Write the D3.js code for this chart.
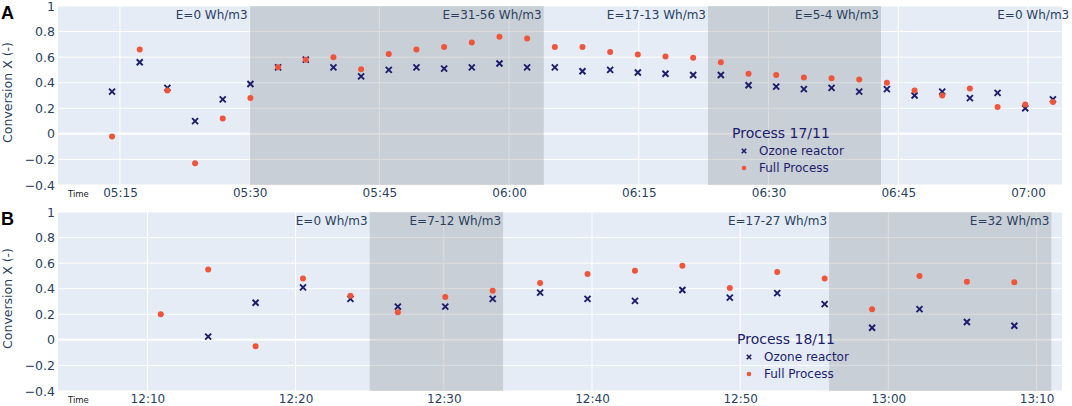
<!DOCTYPE html>
<html>
<head>
<meta charset="utf-8">
<script src="https://cdn.jsdelivr.net/npm/d3@7"></script>
<style>
  body { margin: 0; background: #fff; }
  text { font-family: "DejaVu Sans", Verdana, sans-serif; }
</style>
</head>
<body>
<div id="chart"></div>
<script>
// Panel A - process 17/11
const timesA = ["05:14:05","05:17:17","05:20:29","05:23:41","05:26:53","05:30:05","05:33:17",
  "05:36:29","05:39:41","05:42:53","05:46:05","05:49:17","05:52:29","05:55:41","05:58:53",
  "06:02:05","06:05:17","06:08:29","06:11:41","06:14:53","06:18:05","06:21:17","06:24:29",
  "06:27:41","06:30:53","06:34:05","06:37:17","06:40:29","06:43:41","06:46:53","06:50:05",
  "06:53:17","06:56:29","06:59:41","07:02:53"];
const ozoneA = [0.33,0.56,0.36,0.10,0.27,0.39,0.52,0.58,0.52,0.45,0.50,0.52,0.51,0.52,0.55,
  0.52,0.52,0.49,0.50,0.48,0.47,0.46,0.46,0.38,0.37,0.35,0.36,0.33,0.35,0.30,0.33,0.28,0.32,0.20,0.27];
const fullA = [-0.02,0.66,0.34,-0.23,0.12,0.28,0.52,0.58,0.60,0.505,0.625,0.66,0.68,0.715,0.76,
  0.745,0.68,0.68,0.64,0.62,0.605,0.595,0.56,0.47,0.46,0.44,0.435,0.425,0.40,0.34,0.30,0.355,0.21,0.23,0.25];
const shadesA = [["05:30","06:04"], ["06:23","06:43"]];
const energyA = [["05:30","E=0 Wh/m3"], ["06:04","E=31-56 Wh/m3"], ["06:23","E=17-13 Wh/m3"],
  ["06:43","E=5-4 Wh/m3"], ["07:05","E=0 Wh/m3"]];
const xTicksA = ["05:15","05:30","05:45","06:00","06:15","06:30","06:45","07:00"];
const xRangeA = ["05:07:50","07:03:56"];

// Panel B - process 18/11
const timesB = ["12:10:54","12:14:06","12:17:18","12:20:30","12:23:42","12:26:54","12:30:06",
  "12:33:18","12:36:30","12:39:42","12:42:54","12:46:06","12:49:18","12:52:30","12:55:42",
  "12:58:54","13:02:06","13:05:18","13:08:30"];
const ozoneB = [null,0.025,0.29,0.41,0.32,0.26,0.26,0.32,0.37,0.32,0.305,0.39,0.33,0.365,0.28,
  0.095,0.24,0.14,0.11];
const fullB = [0.20,0.55,-0.05,0.48,0.345,0.215,0.335,0.385,0.445,0.515,0.54,0.58,0.405,0.53,0.48,
  0.24,0.50,0.455,0.45];
const shadesB = [["12:25","12:34"], ["12:56","13:11"]];
const energyB = [["12:25","E=0 Wh/m3"], ["12:34","E=7-12 Wh/m3"], ["12:56","E=17-27 Wh/m3"],
  ["13:11","E=32 Wh/m3"]];
const xTicksB = ["12:10","12:20","12:30","12:40","12:50","13:00","13:10"];
const xRangeB = ["12:03:58","13:11:43"];

const yTicks = [-0.4,-0.2,0,0.2,0.4,0.6,0.8,1];
const seriesNames = ["Ozone reactor","Full Process"];

const width = 1072, height = 406;
const left = 58, right = 1062;
const navy = "#1c1c6c", red = "#EF553B", ink = "#2a3f5f";

const parseT = s => d3.timeParse(s.length > 5 ? "%H:%M:%S" : "%H:%M")(s);

const svg = d3.select("#chart").append("svg")
  .attr("width", width)
  .attr("height", height);

const xMark = "M-3,-3L3,3M-3,3L3,-3";

function drawPanel(cfg) {
  const x = d3.scaleTime()
    .domain(cfg.range.map(parseT))
    .range([left, right]);
  const y = d3.scaleLinear()
    .domain([-0.4, 1])
    .range([cfg.bottom, cfg.top]);

  const g = svg.append("g");

  // background
  g.append("rect")
    .attr("x", left).attr("y", cfg.top)
    .attr("width", right - left).attr("height", cfg.bottom - cfg.top)
    .attr("fill", "#E5ECF6");

  // grid
  g.selectAll(".hgrid")
    .data(yTicks)
    .enter().append("line")
    .attr("x1", left).attr("x2", right)
    .attr("y1", d => y(d)).attr("y2", d => y(d))
    .attr("stroke", "#fff")
    .attr("stroke-width", d => d === 0 ? 2 : 1);
  g.selectAll(".vgrid")
    .data(cfg.xTicks)
    .enter().append("line")
    .attr("x1", d => x(parseT(d))).attr("x2", d => x(parseT(d)))
    .attr("y1", cfg.top).attr("y2", cfg.bottom)
    .attr("stroke", "#fff");

  // energy shading
  g.selectAll(".shade")
    .data(cfg.shades)
    .enter().append("rect")
    .attr("x", d => x(parseT(d[0])))
    .attr("width", d => x(parseT(d[1])) - x(parseT(d[0])))
    .attr("y", cfg.top)
    .attr("height", cfg.bottom - cfg.top)
    .attr("fill", "rgba(120,120,120,0.25)");

  // energy labels
  g.selectAll(".elabel")
    .data(cfg.energy)
    .enter().append("text")
    .attr("x", d => x(parseT(d[0])) - 2)
    .attr("y", cfg.top + 13)
    .attr("text-anchor", "end")
    .attr("font-size", 12)
    .attr("fill", ink)
    .text(d => d[1]);

  // y axis
  const ya = g.append("g")
    .attr("transform", "translate(" + (left - 1) + ",0)")
    .call(d3.axisLeft(y).tickValues(yTicks).tickSize(0).tickPadding(2)
      .tickFormat(d => d === 0 ? "0" : d3.format("")(d).replace("-", "\u2212")));
  ya.select(".domain").remove();
  ya.selectAll("text").attr("font-size", 12.5).attr("fill", ink)
    .style("font-family", "DejaVu Sans");

  // x axis
  const xa = g.append("g")
    .attr("transform", "translate(0," + cfg.bottom + ")")
    .call(d3.axisBottom(x).tickValues(cfg.xTicks.map(parseT)).tickSize(0).tickPadding(3.5)
      .tickFormat(d3.timeFormat("%H:%M")));
  xa.select(".domain").remove();
  xa.selectAll("text").attr("font-size", 12).attr("fill", ink)
    .style("font-family", "DejaVu Sans");

  g.append("text")
    .attr("x", 68)
    .attr("y", cfg.bottom + 12)
    .attr("font-size", 8.5)
    .attr("fill", "#222")
    .text("Time");

  // y title
  g.append("text")
    .attr("transform", "translate(12," + ((cfg.top + cfg.bottom) / 2 - 3) + ") rotate(-90)")
    .attr("text-anchor", "middle")
    .attr("font-size", 12.5)
    .attr("fill", ink)
    .text("Conversion X (-)");

  // panel letter
  g.append("text")
    .attr("x", 1)
    .attr("y", cfg.top + 12.5)
    .attr("font-size", 18)
    .attr("font-weight", "bold")
    .style("font-family", "Liberation Sans, Arial, sans-serif")
    .attr("fill", "#000")
    .text(cfg.letter);

  // ozone reactor markers
  const ozone = cfg.times.map((t, i) => ({ t: parseT(t), v: cfg.ozone[i] }))
    .filter(d => d.v !== null);
  g.selectAll(".ozone")
    .data(ozone)
    .enter().append("path")
    .attr("d", xMark)
    .attr("transform", d => "translate(" + x(d.t) + "," + y(d.v) + ")")
    .attr("stroke", navy)
    .attr("stroke-width", 1.9)
    .attr("fill", "none");

  // full process markers
  const full = cfg.times.map((t, i) => ({ t: parseT(t), v: cfg.full[i] }));
  g.selectAll(".full")
    .data(full)
    .enter().append("circle")
    .attr("cx", d => x(d.t))
    .attr("cy", d => y(d.v))
    .attr("r", 3)
    .attr("fill", red);

  // legend
  const lg = g.append("g").attr("transform", "translate(" + cfg.legend[0] + "," + cfg.legend[1] + ")");
  lg.append("text")
    .attr("x", 0).attr("y", 0)
    .attr("font-size", 14)
    .attr("fill", navy)
    .text(cfg.title);
  seriesNames.forEach((name, i) => {
    const cy = 13 + i * 17;
    if (i === 0) {
      lg.append("path")
        .attr("d", "M-2.2,-2.2L2.2,2.2M-2.2,2.2L2.2,-2.2")
        .attr("transform", "translate(12," + cy + ")")
        .attr("stroke", navy).attr("stroke-width", 1.6).attr("fill", "none");
    } else {
      lg.append("circle")
        .attr("cx", 12).attr("cy", cy).attr("r", 2.3).attr("fill", red);
    }
    lg.append("text")
      .attr("x", 27).attr("y", cy + 4)
      .attr("font-size", 12)
      .attr("fill", navy)
      .text(name);
  });
}

drawPanel({
  letter: "A", title: "Process 17/11",
  top: 6, bottom: 185, range: xRangeA,
  times: timesA, ozone: ozoneA, full: fullA,
  shades: shadesA, energy: energyA, xTicks: xTicksA,
  legend: [732, 138]
});

drawPanel({
  letter: "B", title: "Process 18/11",
  top: 212, bottom: 391, range: xRangeB,
  times: timesB, ozone: ozoneB, full: fullB,
  shades: shadesB, energy: energyB, xTicks: xTicksB,
  legend: [737, 344]
});
</script>
</body>
</html>
